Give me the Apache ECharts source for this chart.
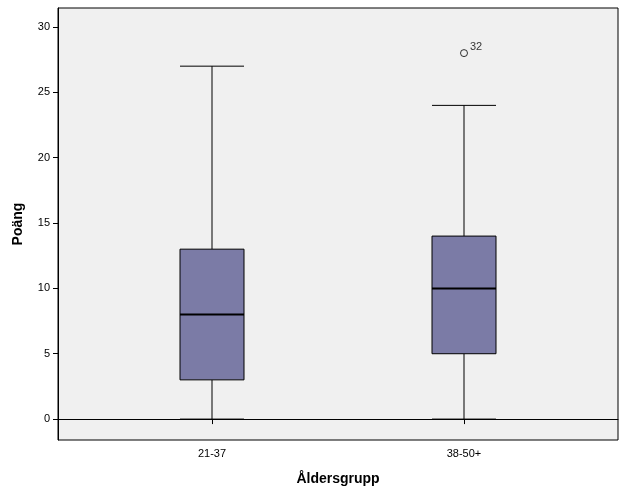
<!DOCTYPE html>
<html><head><meta charset="utf-8">
<script src="https://cdn.jsdelivr.net/npm/echarts@6/dist/echarts.min.js"></script>
<style>html,body{margin:0;padding:0;background:#fff}#c{width:626px;height:501px}</style>
</head><body><div id="c"></div>
<script>
const categories = ['21-37', '38-50+'];
const whiskerLow = [0, 0];
const q1 = [3, 5];
const median = [8, 10];
const q3 = [13, 14];
const whiskerHigh = [27, 24];
const outliers = [[2, 28, '32']];
const yTicks = [0, 5, 10, 15, 20, 25, 30];

const boxData = categories.map((c, i) => [i + 1, whiskerLow[i], q1[i], median[i], q3[i], whiskerHigh[i]]);
const chart = echarts.init(document.getElementById('c'));
const txt = {fontFamily: 'Arial, Liberation Sans', color: '#000', fontSize: 11};
chart.setOption({
  animation: false,
  grid: {left: 58, right: 8, top: 8, bottom: 61, show: true, backgroundColor: '#f0f0f0', borderColor: '#000', borderWidth: 1},
  xAxis: {
    type: 'value', min: 1 - 154/252, max: 2 + 154/252,
    name: 'Åldersgrupp', nameLocation: 'middle', nameGap: 32,
    nameTextStyle: {fontFamily: 'Arial, Liberation Sans', fontWeight: 'bold', fontSize: 14, color: '#000'},
    splitLine: {show: false}, axisLine: {lineStyle: {color: '#000'}},
    axisTick: {customValues: [1, 2], lineStyle: {color: '#000'}},
    axisLabel: Object.assign({customValues: [1, 2], formatter: v => categories[Math.round(v) - 1] || ''}, txt)
  },
  yAxis: {
    type: 'value', min: -1.6, max: 31.45,
    name: 'Poäng', nameLocation: 'middle', nameGap: 33,
    nameTextStyle: {fontFamily: 'Arial, Liberation Sans', fontWeight: 'bold', fontSize: 14, color: '#000'},
    splitLine: {show: false}, axisLine: {show: true, lineStyle: {color: '#000'}},
    axisTick: {show: true, customValues: yTicks, lineStyle: {color: '#000'}},
    axisLabel: Object.assign({customValues: yTicks}, txt)
  },
  series: [{
    type: 'custom',
    data: boxData,
    renderItem: function (params, api) {
      const x = api.value(0);
      const w = 64, cw = 64;
      const p = k => api.coord([x, api.value(k)]);
      const lo = p(1), a = p(2), m = p(3), b = p(4), hi = p(5);
      const cx = lo[0];
      const ls = {stroke: '#000', lineWidth: 1};
      return {type: 'group', children: [
        {type: 'line', shape: {x1: cx, y1: lo[1], x2: cx, y2: a[1]}, style: ls},
        {type: 'line', shape: {x1: cx, y1: b[1], x2: cx, y2: hi[1]}, style: ls},
        {type: 'line', shape: {x1: cx - cw/2, y1: lo[1], x2: cx + cw/2, y2: lo[1]}, style: ls},
        {type: 'line', shape: {x1: cx - cw/2, y1: hi[1], x2: cx + cw/2, y2: hi[1]}, style: ls},
        {type: 'rect', shape: {x: cx - w/2, y: b[1], width: w, height: a[1] - b[1]}, style: {fill: '#7b7ba6', stroke: '#000', lineWidth: 1}},
        {type: 'line', shape: {x1: cx - w/2, y1: m[1], x2: cx + w/2, y2: m[1]}, style: {stroke: '#000', lineWidth: 2}}
      ]};
    }
  }, {
    type: 'scatter', data: outliers, symbol: 'circle', symbolSize: 7,
    itemStyle: {color: '#f0f0f0', borderColor: '#000', borderWidth: 1},
    label: {show: true, position: [10, -8], formatter: p => p.data[2], fontFamily: 'Arial, Liberation Sans', fontSize: 11, color: '#000'}
  }]
});
</script></body></html>
